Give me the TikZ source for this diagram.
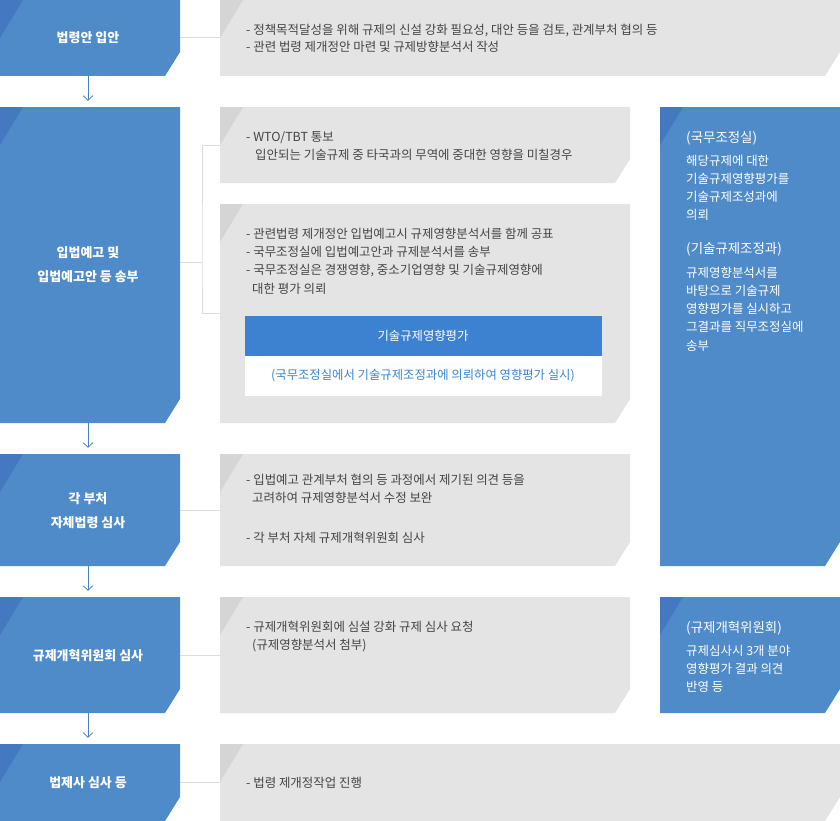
\documentclass[tikz,border=0pt]{standalone}
\usepackage{fontspec}
\setmainfont{Noto Sans CJK KR}
\usetikzlibrary{arrows.meta,fit}
\definecolor{lblue}{HTML}{4F8AC9}
\definecolor{dblue}{HTML}{4479C2}
\definecolor{iblue}{HTML}{3D82D0}
\definecolor{tblue}{HTML}{3A85CF}
\definecolor{gfill}{HTML}{E4E4E4}
\definecolor{gtri}{HTML}{D5D5D5}
\definecolor{gline}{HTML}{DCDCDC}
\definecolor{gtext}{HTML}{444444}
\definecolor{arrowc}{HTML}{4A80C6}
\newcommand\shapebox[7]{%
  \fill[#6] (#2,#3) -- (#4,#3) -- (#4,#5-24) -- (#4-15,#5) -- (#2,#5) -- cycle;
  \fill[#7] (#2,#3) -- (#2+23,#3) -- (#2,#3+38) -- cycle;
  \coordinate (#1-nw) at (#2,#3);
  \coordinate (#1-se) at (#4,#5);
  \node[fit=(#1-nw)(#1-se), inner sep=0pt] (#1) {};
}
\begin{document}
\begin{tikzpicture}[x=1bp,y=-1bp,
  lbl/.style={text=white, font=\fontsize{13}{24}\selectfont\bfseries, align=center, inner sep=0pt},
  gtxt/.style={text=gtext, font=\fontsize{12.5}{17.5}\selectfont, align=left, anchor=west, inner sep=0pt},
  rtxt/.style={text=white, font=\fontsize{12.5}{18.3}\selectfont, align=left, anchor=west, inner sep=0pt},
  conn/.style={draw=gline, line width=1bp},
  flow/.style={draw=arrowc, line width=0.8bp, -{Straight Barb[length=4.5bp,width=9.5bp,line width=0.8bp]}, shorten >=6bp}
]
\useasboundingbox (0,0) rectangle (840,821);
\fill[white] (0,0) rectangle (840,821);

% left column
\shapebox{L1}{0}{0}{180}{76}{lblue}{dblue}
\shapebox{L2}{0}{107}{180}{423}{lblue}{dblue}
\shapebox{L3}{0}{454}{180}{566}{lblue}{dblue}
\shapebox{L4}{0}{597}{180}{713}{lblue}{dblue}
\shapebox{L5}{0}{744}{180}{821}{lblue}{dblue}

% grey column
\shapebox{G1}{220}{0}{840}{76}{gfill}{gtri}
\shapebox{G2a}{220}{107}{630}{183}{gfill}{gtri}
\shapebox{G2b}{220}{204}{630}{423}{gfill}{gtri}
\shapebox{G3}{220}{454}{630}{566}{gfill}{gtri}
\shapebox{G4}{220}{597}{630}{713}{gfill}{gtri}
\shapebox{G5}{220}{744}{840}{821}{gfill}{gtri}

% right column
\shapebox{R1}{660}{107}{840}{566}{lblue}{dblue}
\shapebox{R2}{660}{597}{840}{713}{lblue}{dblue}

% inner box
\fill[iblue] (245,316) rectangle (602,356);
\fill[white] (245,356) rectangle (602,396);
\coordinate (IBa-nw) at (245,316); \coordinate (IBa-se) at (602,356);
\coordinate (IBb-nw) at (245,356); \coordinate (IBb-se) at (602,396);
\node[fit=(IBa-nw)(IBa-se), inner sep=0pt] (IBa) {};
\node[fit=(IBb-nw)(IBb-se), inner sep=0pt] (IBb) {};
\node[text=white, font=\fontsize{12.4}{14}\selectfont, inner sep=0pt] (IBat) at (423,336) {기술규제영향평가};
\node[text=tblue, font=\fontsize{12.4}{14}\selectfont, inner sep=0pt] (IBbt) at (423,376) {(국무조정실에서 기술규제조정과에 의뢰하여 영향평가 실시)};

% left labels
\node[lbl] (tL1) at (88,38) {법령안 입안};
\node[lbl] (tL2) at (88,265) {입법예고 및\\입법예고안 등 송부};
\node[lbl] (tL3) at (88,511) {각 부처\\자체법령 심사};
\node[lbl] (tL4) at (88,656) {규제개혁위원회 심사};
\node[lbl] (tL5) at (88,783) {법제사 심사 등};

% grey texts
\node[gtxt] (tG1) at (246,38.5) {- 정책목적달성을 위해 규제의 신설 강화 필요성, 대안 등을 검토, 관계부처 협의 등\\- 관련 법령 제개정안 마련 및 규제방향분석서 작성};
\node[gtxt] (tG2a) at (246,146) {- WTO/TBT 통보\\\hspace*{9bp}입안되는 기술규제 중 타국과의 무역에 중대한 영향을 미칠경우};
\node[gtxt, font=\fontsize{12.5}{18.3}\selectfont] (tG2b) at (246,261) {- 관련법령 제개정안 입법예고시 규제영향분석서를 함께 공표\\- 국무조정실에 입법예고안과 규제분석서를 송부\\- 국무조정실은 경쟁영향, 중소기업영향 및 기술규제영향에\\\hspace*{6bp}대한 평가 의뢰};
\node[gtxt] (tG3) at (246,509) {- 입법예고 관계부처 협의 등 과정에서 제기된 의견 등을\\\hspace*{6bp}고려하여 규제영향분석서 수정 보완\\[23bp]- 각 부처 자체 규제개혁위원회 심사};
\node[gtxt] (tG4) at (246,636.5) {- 규제개혁위원회에 심설 강화 규제 심사 요청\\\hspace*{6bp}(규제영향분석서 첨부)};
\node[gtxt] (tG5) at (246,783) {- 법령 제개정작업 진행};

% right texts
\node[rtxt] (tR1) at (686,241) {{\fontsize{13.5}{18.3}\selectfont (국무조정실)}\\[5bp]해당규제에 대한\\기술규제영향평가를\\기술규제조성과에\\의뢰\\[15.7bp]{\fontsize{13.5}{18.3}\selectfont (기술규제조정과)}\\[5bp]규제영향분석서를\\바탕으로 기술규제\\영향평가를 실시하고\\그결과를 직무조정실에\\송부};
\node[rtxt] (tR2) at (686,656.7) {{\fontsize{13.5}{18.3}\selectfont (규제개혁위원회)}\\[5bp]규제심사시 3개 분야\\영향평가 결과 의견\\반영 등};

% connectors
\draw[conn] (L1.east) -- (G1.west);
\coordinate (J) at (202,262);
\draw[conn] (L2.east |- J) -- (J);
\draw[conn] (G2a.west) -| (J) |- (G2b.west);
\draw[conn] (L3.east) -- (G3.west);
\draw[conn] (L4.east) -- (G4.west);
\draw[conn] (L5.east) -- (G5.west);

% flow arrows
\draw[flow] ([xshift=-2bp]L1.south) -- ([xshift=-2bp]L2.north);
\draw[flow] ([xshift=-2bp]L2.south) -- ([xshift=-2bp]L3.north);
\draw[flow] ([xshift=-2bp]L3.south) -- ([xshift=-2bp]L4.north);
\draw[flow] ([xshift=-2bp]L4.south) -- ([xshift=-2bp]L5.north);
\end{tikzpicture}
\end{document}
